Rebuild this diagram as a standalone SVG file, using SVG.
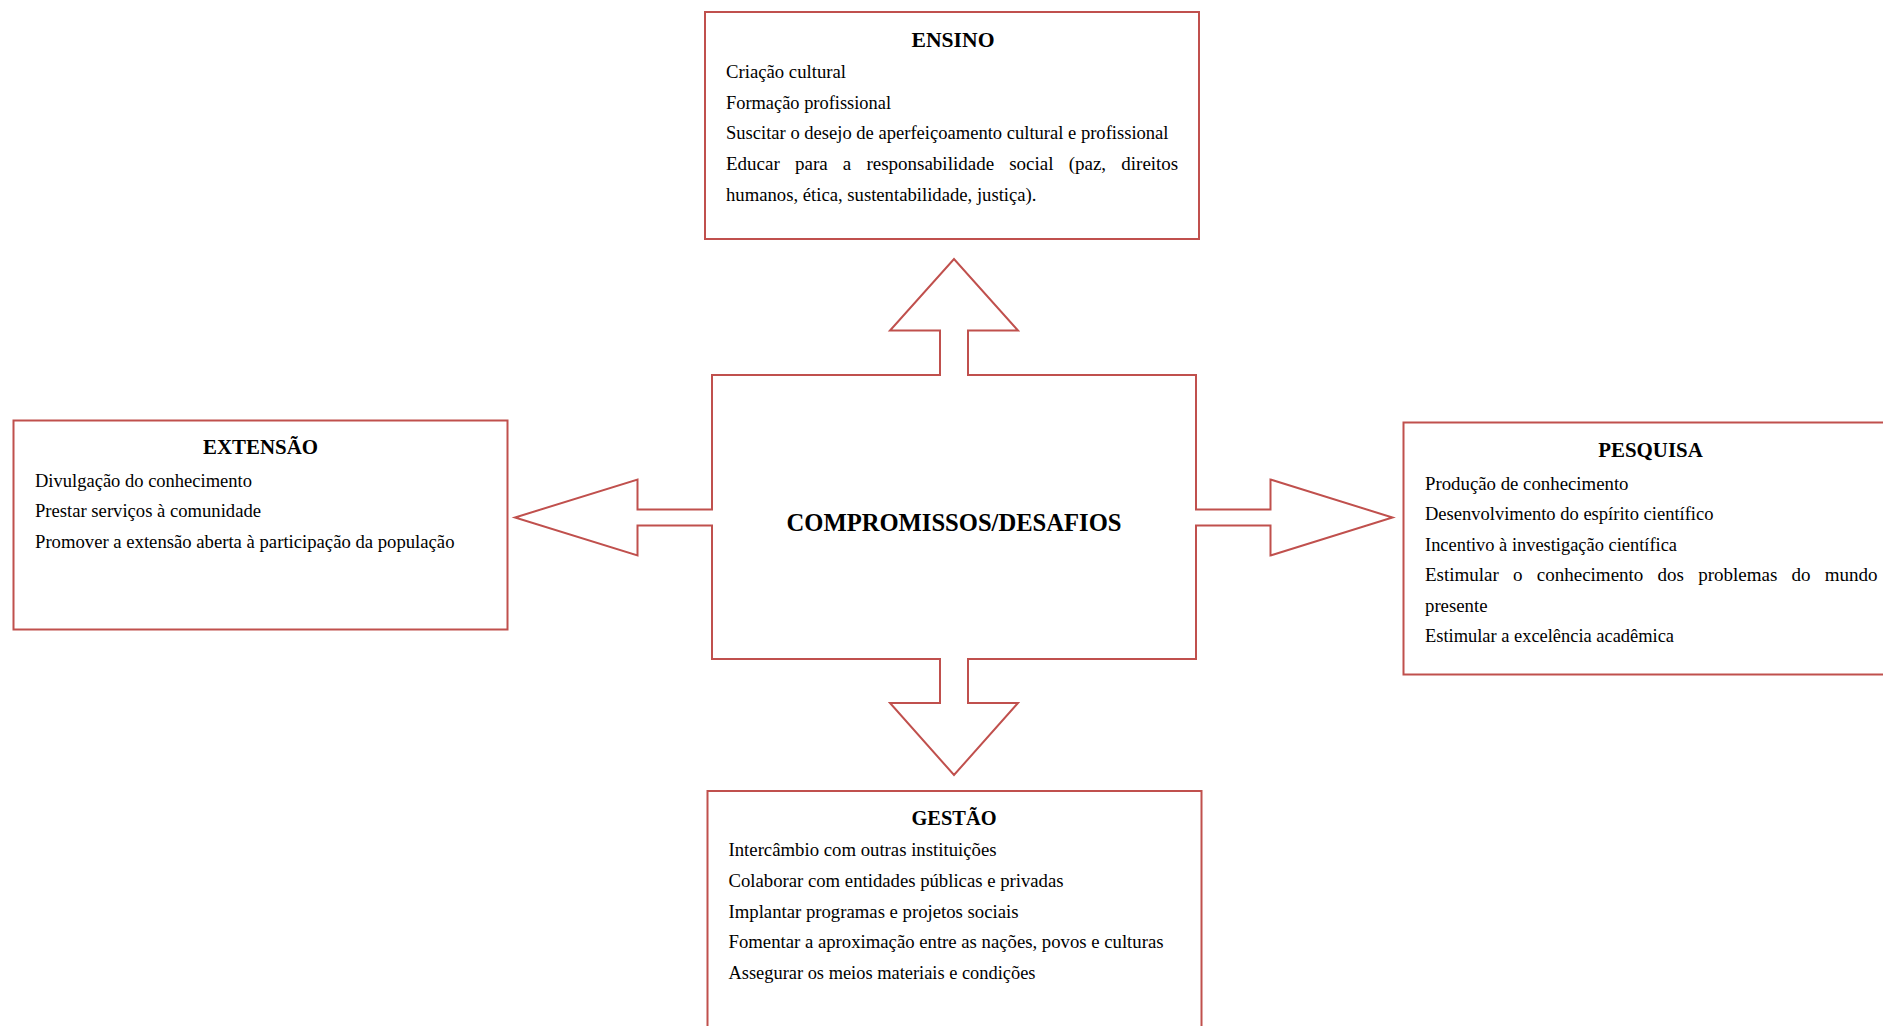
<svg xmlns="http://www.w3.org/2000/svg" width="1883" height="1026" viewBox="0 0 1883 1026">
<style>
.box{fill:#fff;stroke:#C0504D;stroke-width:2}
.shape{fill:#fff;stroke:#C0504D;stroke-width:2;stroke-linejoin:miter}
.t{font-family:"Liberation Serif","Times New Roman",serif;font-size:19px;fill:#000}
.h{font-family:"Liberation Serif","Times New Roman",serif;font-size:21px;font-weight:bold;fill:#000;text-anchor:middle}
.c{font-family:"Liberation Serif","Times New Roman",serif;font-size:25px;font-weight:bold;fill:#000;text-anchor:middle}
</style>
<rect width="1883" height="1026" fill="#fff"/>
<g id="connectors"></g>
<g id="center">
<path class="shape" d="M712 375 L940 375 L940 330.5 L890 330.5 L954 259 L1018 330.5 L968 330.5 L968 375 L1196 375 L1196 509.5 L1270.5 509.5 L1270.5 479.5 L1392.5 517.5 L1270.5 555.5 L1270.5 525.5 L1196 525.5 L1196 659 L968 659 L968 703 L1018 703 L954 775 L890 703 L940 703 L940 659 L712 659 L712 525.5 L637.5 525.5 L637.5 555.5 L515 517.5 L637.5 479.5 L637.5 509.5 L712 509.5 Z"/>
<text class="c" x="954" y="531" textLength="335" lengthAdjust="spacingAndGlyphs">COMPROMISSOS/DESAFIOS</text>
</g>
<g id="ensino">
<rect class="box" x="705" y="12" width="494" height="227"/>
<text class="h" x="953" y="46.5" textLength="83" lengthAdjust="spacingAndGlyphs">ENSINO</text>
<text class="t" x="726" y="78" textLength="120" lengthAdjust="spacingAndGlyphs">Criação cultural</text>
<text class="t" x="726" y="108.7" textLength="165" lengthAdjust="spacingAndGlyphs">Formação profissional</text>
<text class="t" x="726" y="139.4" textLength="442.5" lengthAdjust="spacingAndGlyphs">Suscitar o desejo de aperfeiçoamento cultural e profissional</text>
<text class="t" x="726" y="170" word-spacing="10.4">Educar para a responsabilidade social (paz, direitos</text>
<text class="t" x="726" y="200.7" textLength="310.5" lengthAdjust="spacingAndGlyphs">humanos, ética, sustentabilidade, justiça).</text>
</g>
<g id="extensao">
<rect class="box" x="13.5" y="420.5" width="494" height="209"/>
<text class="h" x="260.5" y="454" textLength="115" lengthAdjust="spacingAndGlyphs">EXTENSÃO</text>
<text class="t" x="35" y="486.5" textLength="217" lengthAdjust="spacingAndGlyphs">Divulgação do conhecimento</text>
<text class="t" x="35" y="517" textLength="226" lengthAdjust="spacingAndGlyphs">Prestar serviços à comunidade</text>
<text class="t" x="35" y="547.5" textLength="419.5" lengthAdjust="spacingAndGlyphs">Promover a extensão aberta à participação da população</text>
</g>
<g id="pesquisa">
<rect class="box" x="1403.5" y="422.5" width="494" height="252"/>
<text class="h" x="1650.5" y="456.5" textLength="104.5" lengthAdjust="spacingAndGlyphs">PESQUISA</text>
<text class="t" x="1425" y="489.5" textLength="203.5" lengthAdjust="spacingAndGlyphs">Produção de conhecimento</text>
<text class="t" x="1425" y="520" textLength="288.5" lengthAdjust="spacingAndGlyphs">Desenvolvimento do espírito científico</text>
<text class="t" x="1425" y="550.5" textLength="252" lengthAdjust="spacingAndGlyphs">Incentivo à investigação científica</text>
<text class="t" x="1425" y="581" word-spacing="9.45">Estimular o conhecimento dos problemas do mundo</text>
<text class="t" x="1425" y="611.5" textLength="62.5" lengthAdjust="spacingAndGlyphs">presente</text>
<text class="t" x="1425" y="642" textLength="249" lengthAdjust="spacingAndGlyphs">Estimular a excelência acadêmica</text>
</g>
<g id="gestao">
<rect class="box" x="707.5" y="791" width="494" height="260"/>
<text class="h" x="954" y="825" textLength="85" lengthAdjust="spacingAndGlyphs">GESTÃO</text>
<text class="t" x="728.5" y="856" textLength="268" lengthAdjust="spacingAndGlyphs">Intercâmbio com outras instituições</text>
<text class="t" x="728.5" y="887" textLength="335" lengthAdjust="spacingAndGlyphs">Colaborar com entidades públicas e privadas</text>
<text class="t" x="728.5" y="917.5" textLength="290" lengthAdjust="spacingAndGlyphs">Implantar programas e projetos sociais</text>
<text class="t" x="728.5" y="948" textLength="435" lengthAdjust="spacingAndGlyphs">Fomentar a aproximação entre as nações, povos e culturas</text>
<text class="t" x="728.5" y="978.5" textLength="307" lengthAdjust="spacingAndGlyphs">Assegurar os meios materiais e condições</text>
</g>
</svg>
